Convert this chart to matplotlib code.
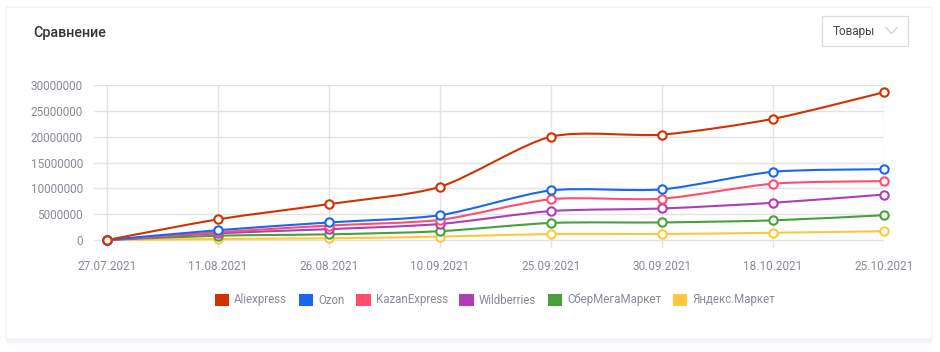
import matplotlib.pyplot as plt
from matplotlib.path import Path
from matplotlib.patches import PathPatch, FancyBboxPatch, Rectangle
from matplotlib.lines import Line2D

plt.rcParams['font.family'] = ['Roboto', 'DejaVu Sans']

dates = ["27.07.2021", "11.08.2021", "26.08.2021", "10.09.2021",
         "25.09.2021", "30.09.2021", "18.10.2021", "25.10.2021"]

aliexpress = [0, 4000000, 6950000, 10300000, 20000000, 20400000, 23450000, 28600000]
ozon = [0, 1900000, 3400000, 4800000, 9600000, 9800000, 13200000, 13700000]
kazanexpress = [0, 1500000, 2800000, 3900000, 7900000, 8000000, 10900000, 11400000]
wildberries = [0, 1300000, 2100000, 3100000, 5600000, 6100000, 7200000, 8800000]
sber = [0, 830000, 1100000, 1700000, 3300000, 3400000, 3800000, 4800000]
yandex = [0, 200000, 330000, 650000, 1160000, 1160000, 1400000, 1700000]

names = ["Aliexpress", "Ozon", "KazanExpress", "Wildberries", "СберМегаМаркет", "Яндекс.Маркет"]
series = [aliexpress, ozon, kazanexpress, wildberries, sber, yandex]
colors = ["#d23100", "#1767f2", "#ff4d6d", "#b03db8", "#47a03b", "#ffc83a"]

W, H = 940, 352
fig = plt.figure(figsize=(W / 100, H / 100), dpi=100)
fig.patch.set_facecolor("white")

# card with soft shadow
for i, a in enumerate([0.05, 0.05, 0.06, 0.07]):
    off = 4 - i
    fig.patches.append(FancyBboxPatch((6 / W, (H - 341 - off) / H), 926 / W, 334 / H,
                                      boxstyle="round,pad=0,rounding_size=0.004",
                                      transform=fig.transFigure, facecolor="#d6d4f0",
                                      edgecolor="none", alpha=a, zorder=0))
fig.patches.append(FancyBboxPatch((6 / W, (H - 339) / H), 926 / W, 332 / H,
                                  boxstyle="round,pad=0,rounding_size=0.004",
                                  transform=fig.transFigure, facecolor="white",
                                  edgecolor="#f0f0f4", linewidth=0.8, zorder=1))

fig.text(33 / W, 1 - 33 / H, "Сравнение", fontsize=10.3, color="#333333",
         fontweight="medium", va="center", ha="left", zorder=3)

# dropdown
fig.patches.append(Rectangle((822 / W, 1 - 46 / H), 86 / W, 30 / H, transform=fig.transFigure,
                             facecolor="white", edgecolor="#dcdcdc", linewidth=0.9, zorder=2))
fig.text(833 / W, 1 - 31.5 / H, "Товары", fontsize=8.5, color="#444444",
         va="center", ha="left", zorder=3)
fig.lines.append(Line2D([886 / W, 891.5 / W, 897 / W], [1 - 27.5 / H, 1 - 33.5 / H, 1 - 27.5 / H],
                        transform=fig.transFigure, color="#cfcfcf", linewidth=0.9, zorder=3))

ax = fig.add_axes([94 / W, 1 - 248 / H, (884 - 94) / W, (248 - 85) / H])
ax.set_facecolor("none")
ax.set_zorder(4)
x = list(range(len(dates)))
ax.set_xlim(-13 / 111, 7)
ax.set_ylim(-30000000 * 8 / 155, 30000000)

for v in range(0, 30000001, 5000000):
    ax.axhline(v, color="#e3e3e3", linewidth=1.0, zorder=0)
for xi in x:
    ax.axvline(xi, color="#e3e3e3", linewidth=1.0, zorder=0)


def smooth_path(xs, ys, t=0.13):
    pts = list(zip(xs, ys))
    verts = [pts[0]]
    codes = [Path.MOVETO]
    n = len(pts)
    for i in range(n - 1):
        p0 = pts[i - 1] if i > 0 else pts[i]
        p1 = pts[i]
        p2 = pts[i + 1]
        p3 = pts[i + 2] if i + 2 < n else pts[i + 1]
        c1 = (p1[0] + (p2[0] - p0[0]) * t, p1[1] + (p2[1] - p0[1]) * t)
        c2 = (p2[0] - (p3[0] - p1[0]) * t, p2[1] - (p3[1] - p1[1]) * t)
        verts += [c1, c2, p2]
        codes += [Path.CURVE4] * 3
    return Path(verts, codes)


for k in range(len(series) - 1, -1, -1):
    vals = series[k]
    ax.add_patch(PathPatch(smooth_path(x, vals), facecolor="none", edgecolor=colors[k],
                           linewidth=1.5, zorder=2 + (len(series) - k) * 0.1, clip_on=False))
    ax.plot(x, vals, linestyle="none", marker="o", markersize=6, markerfacecolor="white",
            markeredgecolor=colors[k], markeredgewidth=1.5, clip_on=False,
            zorder=3 + (len(series) - k) * 0.1)

ax.set_xticks(x)
ax.set_xticklabels(dates)
ax.set_yticks(range(0, 30000001, 5000000))
ax.set_yticklabels([str(v) for v in range(0, 30000001, 5000000)])
ax.tick_params(axis="both", length=0, labelsize=8.5, labelcolor="#8a8a96")
ax.tick_params(axis="y", pad=8)
ax.tick_params(axis="x", pad=9)
for s in ax.spines.values():
    s.set_visible(False)

handles = [Rectangle((0, 0), 1, 1, facecolor=c, edgecolor="none") for c in colors]
leg = fig.legend(handles, names, loc="center", bbox_to_anchor=(495 / W, 1 - 300 / H),
                 ncol=6, frameon=False, fontsize=8.3, handlelength=1.25, handleheight=1.25,
                 handletextpad=0.45, columnspacing=1.0, labelcolor="#8a8a96")
leg.set_zorder(5)

fig.savefig("out.png", dpi=100, facecolor="white")
